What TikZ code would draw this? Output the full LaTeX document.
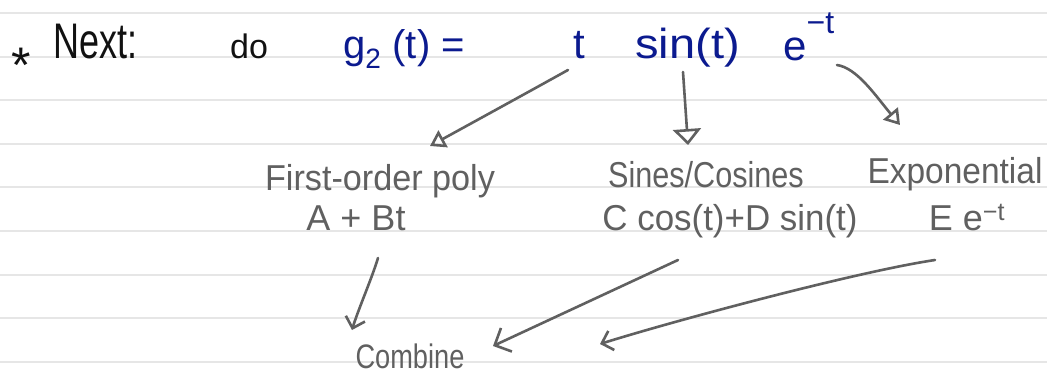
\documentclass[tikz,border=0pt]{standalone}
\usepackage{fontspec}
\setmainfont{Liberation Sans}
\usetikzlibrary{arrows.meta,calc}
\definecolor{ink}{HTML}{111111}
\definecolor{blueink}{HTML}{0B1A8F}
\definecolor{grayink}{HTML}{606060}
\definecolor{ruleclr}{HTML}{E6E6E6}
\begin{document}
\begin{tikzpicture}[x=1pt,y=-1pt,
  ruleline/.style={draw=ruleclr,line width=1.2pt},
  blk/.style={text=ink,inner sep=0pt,anchor=base west},
  blu/.style={text=blueink,inner sep=0pt,anchor=base west,font=\fontsize{42}{44}\selectfont},
  gry/.style={text=grayink,inner sep=0pt,anchor=base,font=\fontsize{36}{38}\selectfont},
  conn/.style={draw=grayink,line width=2.6pt,line cap=round,line join=round},
  tri/.style={conn,-{Triangle[open,length=15pt,width=19pt,line width=2.6pt]}},
  widetri/.style={conn,-{Triangle[open,length=16pt,width=28pt,line width=2.6pt]}},
  barb/.style={conn,-{Straight Barb[length=10pt,width=20pt,line width=2.6pt]}},
  widebarb/.style={conn,-{Straight Barb[length=13pt,width=26pt,line width=2.6pt]}}]
\useasboundingbox (0,0) rectangle (1047,378);
\fill[white] (0,0) rectangle (1047,378);
\foreach \yy in {13,57,100,144,187,231,275,318,362} \draw[ruleline] (0,\yy) -- (1047,\yy);
% header
\node[text=ink,inner sep=0pt,anchor=base,font=\fontsize{50}{50}\selectfont] (star) at (21,82) {*};
\node[blk,font=\fontsize{50}{52}\selectfont,xscale=0.72] (next) at (53,58) {Next:};
\node[blk,font=\fontsize{34}{36}\selectfont] (do) at (230,58) {do};
\node[blu,font=\fontsize{40}{42}\selectfont] (g2) at (343,58) {g\textsubscript{2} (t) =};
\node[blu] (t) at (573,58) {t};
\node[blu,xscale=1.12] (sin) at (635,58) {sin(t)};
\node[blu] (exp) at (783,60) {e\raisebox{27pt}{\fontsize{32}{32}\selectfont −t}};
% labels
\node[gry,xscale=0.95] (poly) at (380,190) {First-order poly};
\node[gry] (abt) at (356,230) {A + Bt};
\node[gry,xscale=0.85] (sc) at (706,187) {Sines/Cosines};
\node[gry,xscale=0.97] (cds) at (730,230) {C cos(t)+D sin(t)};
\node[gry,xscale=0.93] (expo) at (955,183) {Exponential};
\node[gry] (ee) at (967,230) {E e\textsuperscript{−t}};
\node[gry,font=\fontsize{34}{36}\selectfont,xscale=0.8] (comb) at (410,368) {Combine};
% connectors
\draw[tri] ($(t.base west)+(-5,12)$) .. controls +(-45,25) and +(40,-22) .. ($(poly.base)+(50,-44)$);
\draw[widetri] ($(sin.base west)+(48,14)$) -- ($(sc.base)+(-18,-42)$);
\draw[tri] ($(exp.base west)+(54,5)$) .. controls +(20,3) and +(-25,-30) .. ($(expo.base)+(-55,-58)$);
\draw[barb] ($(abt.base)+(22,28)$) .. controls +(-6,20) and +(6,-20) .. ($(comb.base)+(-58,-38)$);
\draw[widebarb] ($(cds.base)+(-52,30)$) -- ($(comb.base)+(83,-22)$);
\draw[barb] ($(ee.base)+(-32,30)$) .. controls +(-80,12) and +(70,-22) .. ($(comb.base)+(190,-24)$);
\end{tikzpicture}
\end{document}
